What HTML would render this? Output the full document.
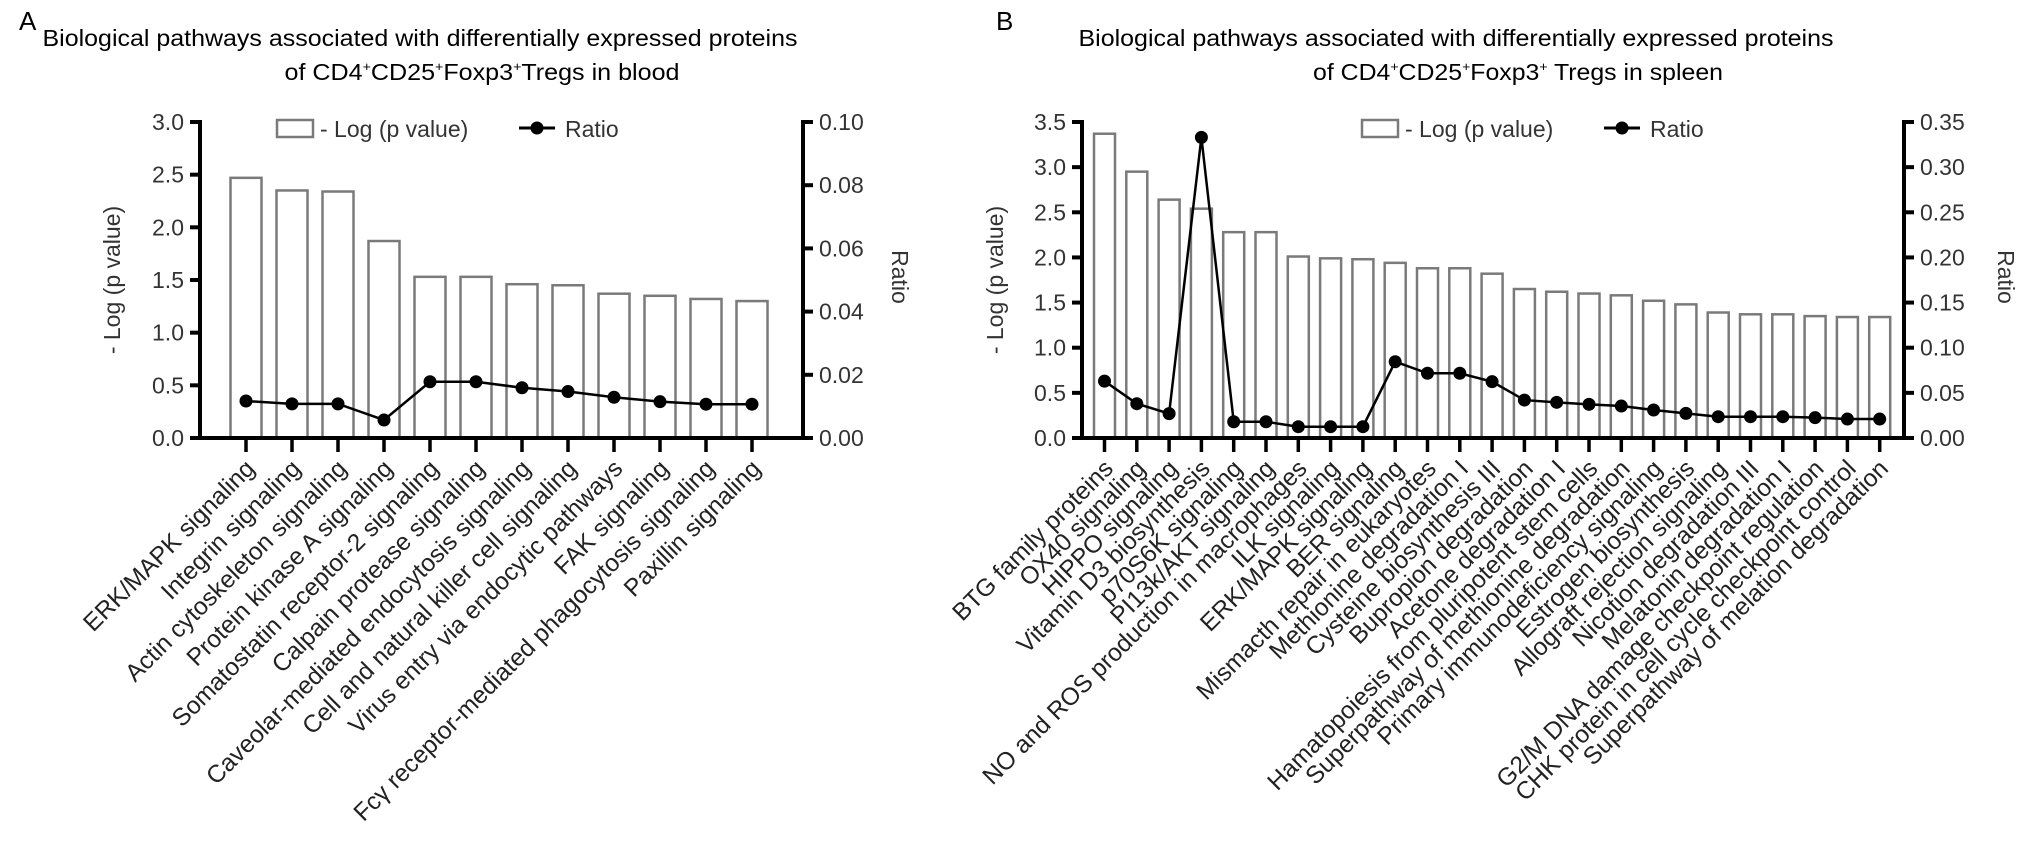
<!DOCTYPE html>
<html><head><meta charset="utf-8"><style>
html,body{margin:0;padding:0;background:#fff;}
svg{display:block;font-family:"Liberation Sans",Arial,sans-serif;}
</style></head><body>
<svg id="chart" width="2022" height="844" viewBox="0 0 2022 844" xmlns="http://www.w3.org/2000/svg">
<text x="19" y="30" font-size="26">A</text>
<text x="420" y="46" font-size="23" text-anchor="middle" textLength="755" lengthAdjust="spacingAndGlyphs">Biological pathways associated with differentially expressed proteins</text>
<text x="482" y="80" font-size="23" text-anchor="middle" textLength="395" lengthAdjust="spacingAndGlyphs">of CD4<tspan font-size="13" dy="-9">+</tspan><tspan dy="9">CD25</tspan><tspan font-size="13" dy="-9">+</tspan><tspan dy="9">Foxp3</tspan><tspan font-size="13" dy="-9">+</tspan><tspan dy="9">Tregs in blood</tspan></text>
<text x="996" y="30" font-size="26">B</text>
<text x="1456" y="46" font-size="23" text-anchor="middle" textLength="755" lengthAdjust="spacingAndGlyphs">Biological pathways associated with differentially expressed proteins</text>
<text x="1518" y="80" font-size="23" text-anchor="middle" textLength="410" lengthAdjust="spacingAndGlyphs">of CD4<tspan font-size="13" dy="-9">+</tspan><tspan dy="9">CD25</tspan><tspan font-size="13" dy="-9">+</tspan><tspan dy="9">Foxp3</tspan><tspan font-size="13" dy="-9">+</tspan><tspan dy="9"> Tregs in spleen</tspan></text>
</svg>
<script>
const catsA = ["ERK/MAPK signaling","Integrin signaling","Actin cytoskeleton signaling","Protein kinase A signaling","Somatostatin receptor-2 signaling","Calpain protease signaling","Caveolar-mediated endocytosis signaling","Cell and natural killer cell signaling","Virus entry via endocytic pathways","FAK signaling","Fc\u03b3 receptor-mediated phagocytosis signaling","Paxillin signaling"];
const logpA = [2.47,2.35,2.34,1.87,1.53,1.53,1.46,1.45,1.37,1.35,1.32,1.30];
const ratioA = [0.0117,0.0108,0.0108,0.0057,0.0178,0.0178,0.0159,0.0147,0.0129,0.0115,0.0107,0.0107];
const leftTicksA = ["0.0","0.5","1.0","1.5","2.0","2.5","3.0"];
const rightTicksA = ["0.00","0.02","0.04","0.06","0.08","0.10"];

const catsB = ["BTG family proteins","OX40 signaling","HIPPO signaling","Vitamin D3 biosynthesis","p70S6K signaling","PI13k/AKT signaling","NO and ROS production in macrophages","ILK signaling","ERK/MAPK signaling","BER signaling","Mismacth repair in eukaryotes","Methionine degradation I","Cysteine biosynthesis III","Bupropion degradation","Acetone degradation I","Hamatopoiesis from pluripotent stem cells","Superpathway of methionine degradation","Primary immunodeficiency signaling","Estrogen biosynthesis","Allograft rejection signaling","Nicotion degradation III","Melatonin degradation I","G2/M DNA damage checkpoint regulation","CHK protein in cell cycle checkpoint control","Superpathway of melation degradation"];
const logpB = [3.37,2.95,2.64,2.54,2.28,2.28,2.01,1.99,1.98,1.94,1.88,1.88,1.82,1.65,1.62,1.60,1.58,1.52,1.48,1.39,1.37,1.37,1.35,1.34,1.34];
const ratioB = [0.063,0.038,0.027,0.333,0.018,0.018,0.0125,0.0125,0.0125,0.0845,0.0717,0.0717,0.0624,0.042,0.0395,0.0373,0.0354,0.031,0.0273,0.0236,0.0236,0.0236,0.0225,0.021,0.021];
const leftTicksB = ["0.0","0.5","1.0","1.5","2.0","2.5","3.0","3.5"];
const rightTicksB = ["0.00","0.05","0.10","0.15","0.20","0.25","0.30","0.35"];

const NS = "http://www.w3.org/2000/svg";
const svg = document.getElementById('chart');
function mk(tag, attrs, parent, text){
  const e = document.createElementNS(NS, tag);
  for (const k in attrs) e.setAttribute(k, attrs[k]);
  if (text !== undefined) e.textContent = text;
  (parent||svg).appendChild(e);
  return e;
}

function panel(cfg){
  const g = mk('g', {});
  
  
  const y0 = 438, y1 = 122;
  const lmax = Number(cfg.lt[cfg.lt.length-1]), rmax = Number(cfg.rt[cfg.rt.length-1]);
  const yL = v => y0 - (v/lmax)*(y0-y1);
  const yR = v => y0 - (v/rmax)*(y0-y1);
  const xc = i => cfg.x0 + i*cfg.pitch;
  cfg.logp.forEach((v,i)=>{
    const r = mk('rect', {x: xc(i)-cfg.bw/2, y: yL(v), width: cfg.bw, height: y0-yL(v), fill:'#fff', stroke:'#7a7a7a', 'stroke-width':2.5}, g);
    
    
  });
  const pts = cfg.ratio.map((v,i)=> xc(i)+','+yR(v)).join(' ');
  const pl = mk('polyline', {points: pts, fill:'none', stroke:'#000', 'stroke-width':2.5}, g);
  
  
  cfg.ratio.forEach((v,i)=>{
    const c = mk('circle', {cx: xc(i), cy: yR(v), r: 6.5, fill:'#000'}, g);
    
    
  });
  const ax = mk('path', {d:`M${cfg.ax} ${y1-2}V${y0}H${cfg.rx}V${y1-2}`, fill:'none', stroke:'#000', 'stroke-width':4}, g);
  
  
  const xa = mk('line', {x1: cfg.ax-10, x2: cfg.rx+10, y1: y0, y2: y0, stroke:'#000', 'stroke-width':4}, g);
  
  
  cfg.lt.forEach((t,i)=>{
    const y = yL(Number(t));
    mk('line', {x1: cfg.ax-10, x2: cfg.ax, y1: y, y2: y, stroke:'#000', 'stroke-width':4}, g);
    const tx = mk('text', {x: cfg.ax-16, y: y+8, 'font-size':23, 'text-anchor':'end', fill:'#333'}, g, t);
    
    
  });
  cfg.rt.forEach((t,i)=>{
    const y = yR(Number(t));
    mk('line', {x1: cfg.rx, x2: cfg.rx+10, y1: y, y2: y, stroke:'#000', 'stroke-width':4}, g);
    const tx = mk('text', {x: cfg.rx+16, y: y+8, 'font-size':23, fill:'#333'}, g, t);
    
    
  });
  cfg.cats.forEach((c,i)=>{
    const x = xc(i);
    mk('line', {x1:x, x2:x, y1:y0, y2:y0+14, stroke:'#000', 'stroke-width':3.5}, g);
    const ex = x+10, ey = 470;
    const tx = mk('text', {x: ex, y: ey, 'font-size':24.5, 'text-anchor':'end', fill:'#222', transform:`rotate(-45 ${ex} ${ey})`}, g, c);
    
    
  });
  const yt = mk('text', {x: cfg.ytx, y: 280, 'font-size':23, 'text-anchor':'middle', fill:'#333', transform:`rotate(-90 ${cfg.ytx} 280)`}, g, '- Log (p value)');
  
  
  const rt = mk('text', {x: cfg.rtx, y: 277, 'font-size':23, 'text-anchor':'middle', fill:'#333', transform:`rotate(90 ${cfg.rtx} 277)`}, g, 'Ratio');
  
  
  const lg = mk('g', {}, g);
  
  
  const lb = mk('rect', {x: cfg.lx, y: 120, width: 36, height: 17, fill:'#fff', stroke:'#7a7a7a', 'stroke-width':2.5}, lg);
  
  
  const lt1 = mk('text', {x: cfg.lx+43, y: 137, 'font-size':23, fill:'#333'}, lg, '- Log (p value)');
  
  
  mk('line', {x1: cfg.lx2, x2: cfg.lx2+36, y1:128, y2:128, stroke:'#000', 'stroke-width':3}, lg);
  const ld = mk('circle', {cx: cfg.lx2+18, cy:128, r:6.5, fill:'#000'}, lg);
  
  
  const lt2 = mk('text', {x: cfg.lx2+46, y: 137, 'font-size':23, fill:'#333'}, lg, 'Ratio');
  
  
}

panel({name:'panel-a-chart', cats:catsA, logp:logpA, ratio:ratioA, lt:leftTicksA, rt:rightTicksA,
  x0:246, pitch:46.0, bw:31, ax:200, rx:803, ytx:120, rtx:892, lx:277, lx2:519});
panel({name:'panel-b-chart', cats:catsB, logp:logpB, ratio:ratioB, lt:leftTicksB, rt:rightTicksB,
  x0:1104.5, pitch:32.3, bw:21, ax:1082, rx:1904, ytx:1003, rtx:1998, lx:1362, lx2:1604});
</script>
</body></html>
